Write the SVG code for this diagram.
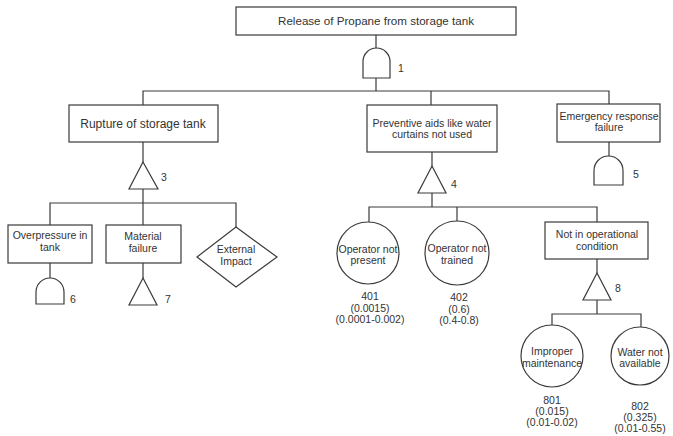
<svg xmlns="http://www.w3.org/2000/svg" width="673" height="436" viewBox="0 0 673 436">
<style>
  .bg { fill: #ffffff; }
  .shape { fill: #ffffff; stroke: #3a3a3a; stroke-width: 1.2; }
  .conn { fill: none; stroke: #3a3a3a; stroke-width: 1.2; }
  text { font-family: "Liberation Sans", Arial, sans-serif; fill: #333333; text-anchor: middle; }
  .t { font-size: 10.5px; }
  .big { font-size: 11.6px; }
  .mid { font-size: 12px; }
  .num { font-size: 10.5px; text-anchor: start; }
</style>
<rect class="bg" x="0" y="0" width="673" height="436"/>

<g id="connectors">
  <path class="conn" d="M376,35 V48"/>
  <path class="conn" d="M376,78 V91"/>
  <path class="conn" d="M143,105 V91 H609 V104"/>
  <path class="conn" d="M431,91 V105"/>
  <path class="conn" d="M143,142 V162"/>
  <path class="conn" d="M143,189 V203"/>
  <path class="conn" d="M50,225 V203 H236 V227"/>
  <path class="conn" d="M143,203 V225"/>
  <path class="conn" d="M50,263 V278"/>
  <path class="conn" d="M143,263 V278"/>
  <path class="conn" d="M432,152 V166"/>
  <path class="conn" d="M432,193 V207"/>
  <path class="conn" d="M369,222 V207 H597 V222"/>
  <path class="conn" d="M457,207 V222"/>
  <path class="conn" d="M609,142 V156"/>
  <path class="conn" d="M597,259 V273"/>
  <path class="conn" d="M597,300 V314"/>
  <path class="conn" d="M552,325 V314 H641 V327"/>
</g>

<g id="top-event">
  <rect class="shape" x="236" y="7" width="280" height="28"/>
  <text class="big" x="376" y="25">Release of Propane from storage tank</text>
</g>
<g id="gate-1">
  <path class="shape" d="M363,78 V61.5 A13.5,13.5 0 0 1 390,61.5 V78 Z"/>
  <text class="num" x="398" y="72">1</text>
</g>

<g id="rupture">
  <rect class="shape" x="69" y="105" width="149" height="37"/>
  <text class="mid" x="143" y="128">Rupture of storage tank</text>
</g>
<g id="gate-3">
  <path class="shape" d="M143,162 L158,189 H129 Z"/>
  <text class="num" x="161" y="181">3</text>
</g>

<g id="overpressure">
  <rect class="shape" x="8" y="225" width="84" height="38"/>
  <text class="t" x="50" y="239">Overpressure in</text>
  <text class="t" x="50" y="251">tank</text>
</g>
<g id="gate-6">
  <path class="shape" d="M36,304 V292 A14,14 0 0 1 64,292 V304 Z"/>
  <text class="num" x="70" y="303">6</text>
</g>

<g id="material">
  <rect class="shape" x="106" y="225" width="75" height="38"/>
  <text class="t" x="143" y="240">Material</text>
  <text class="t" x="143" y="252">failure</text>
</g>
<g id="gate-7">
  <path class="shape" d="M143,278 L157,305 H129 Z"/>
  <text class="num" x="165" y="303">7</text>
</g>

<g id="external">
  <path class="shape" d="M236,227 L277,257 L236,287 L197,257 Z"/>
  <text class="t" x="236" y="253">External</text>
  <text class="t" x="236" y="265">Impact</text>
</g>

<g id="preventive">
  <rect class="shape" x="367" y="105" width="130" height="47"/>
  <text class="t" x="432" y="127">Preventive aids like water</text>
  <text class="t" x="432" y="138">curtains not used</text>
</g>
<g id="gate-4">
  <path class="shape" d="M432,166 L446,193 H418 Z"/>
  <text class="num" x="451" y="188">4</text>
</g>

<g id="op-not-present">
  <circle class="shape" cx="368" cy="253" r="31"/>
  <text class="t" x="368" y="253">Operator not</text>
  <text class="t" x="368" y="264">present</text>
  <text class="t" x="370" y="300">401</text>
  <text class="t" x="370" y="312">(0.0015)</text>
  <text class="t" x="370" y="323">(0.0001-0.002)</text>
</g>

<g id="op-not-trained">
  <circle class="shape" cx="457" cy="253" r="32"/>
  <text class="t" x="457" y="252">Operator not</text>
  <text class="t" x="457" y="264">trained</text>
  <text class="t" x="459" y="301">402</text>
  <text class="t" x="459" y="313">(0.6)</text>
  <text class="t" x="459" y="324">(0.4-0.8)</text>
</g>

<g id="emergency">
  <rect class="shape" x="557" y="104" width="103" height="38"/>
  <text class="t" x="609" y="120">Emergency response</text>
  <text class="t" x="609" y="131">failure</text>
</g>
<g id="gate-5">
  <path class="shape" d="M594,185 V170.5 A14.5,14.5 0 0 1 623,170.5 V185 Z"/>
  <text class="num" x="633" y="178">5</text>
</g>

<g id="not-operational">
  <rect class="shape" x="545" y="222" width="103" height="37"/>
  <text class="t" x="597" y="238">Not in operational</text>
  <text class="t" x="597" y="250">condition</text>
</g>
<g id="gate-8">
  <path class="shape" d="M597,273 L611,300 H583 Z"/>
  <text class="num" x="615" y="292">8</text>
</g>

<g id="improper-maintenance">
  <circle class="shape" cx="552" cy="356" r="31"/>
  <text class="t" x="552" y="355">Improper</text>
  <text class="t" x="552" y="367">maintenance</text>
  <text class="t" x="552" y="404">801</text>
  <text class="t" x="552" y="415">(0.015)</text>
  <text class="t" x="552" y="426">(0.01-0.02)</text>
</g>

<g id="water-not-available">
  <circle class="shape" cx="640" cy="356" r="29"/>
  <text class="t" x="640" y="356">Water not</text>
  <text class="t" x="640" y="367">available</text>
  <text class="t" x="640" y="410">802</text>
  <text class="t" x="640" y="421">(0.325)</text>
  <text class="t" x="640" y="432">(0.01-0.55)</text>
</g>
</svg>
